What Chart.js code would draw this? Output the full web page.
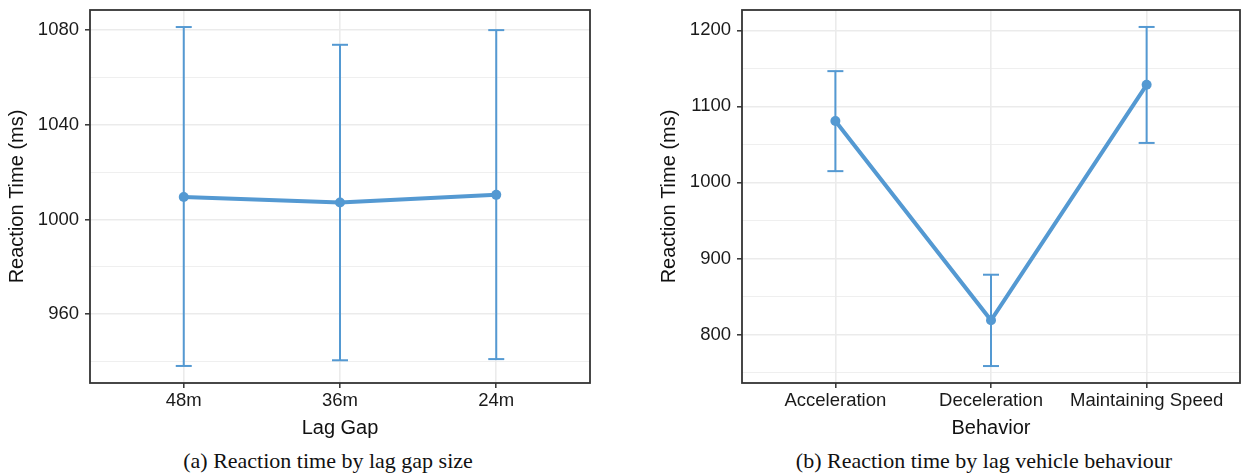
<!DOCTYPE html>
<html>
<head>
<meta charset="utf-8">
<script src="https://cdn.jsdelivr.net/npm/chart.js@4"></script>
<style>
  body { margin: 0; background: #fff; width: 1250px; height: 476px; position: relative; overflow: hidden; }
  canvas { position: absolute; top: 0; }
  .cap { position: absolute; top: 450px; font-family: "Liberation Serif", "Times New Roman", serif; font-size: 22px;
         line-height: 22px; color: #111; white-space: nowrap; transform: translateX(-50%); }
</style>
</head>
<body>
<canvas id="gapChart" width="625" height="445" style="left:0"></canvas>
<canvas id="behChart" width="598" height="445" style="left:652px"></canvas>
<div class="cap" style="left:328px">(a) Reaction time by lag gap size</div>
<div class="cap" style="left:984px">(b) Reaction time by lag vehicle behaviour</div>
<script>
// (a) lag gap
var gapLabels = ['48m', '36m', '24m'];
var gapMean = [1009.5, 1007.2, 1010.4];
var gapLow = [938.1, 940.5, 941.0];
var gapHigh = [1081.3, 1073.8, 1080.0];
var gapTicks = [940, 960, 980, 1000, 1020, 1040, 1060, 1080];

// (b) lag vehicle behaviour
var behLabels = ['Acceleration', 'Deceleration', 'Maintaining Speed'];
var behMean = [1080.7, 818.7, 1128.3];
var behLow = [1014.8, 758.5, 1051.9];
var behHigh = [1146.3, 878.6, 1204.4];
var behTicks = [750, 800, 850, 900, 950, 1000, 1050, 1100, 1150, 1200];

var blue = '#5499d2';
var sans = '"Liberation Sans", Arial, Helvetica, sans-serif';

// dark frame round the panel, like ggplot's panel.border
var panelBorder = {
    id: 'panelBorder',
    afterDatasetsDraw: function (chart) {
        var a = chart.chartArea;
        var ctx = chart.ctx;
        ctx.save();
        ctx.strokeStyle = '#333';
        ctx.lineWidth = 1.8;
        ctx.strokeRect(a.left, a.top, a.right - a.left, a.bottom - a.top);
        ctx.restore();
    }
};

function makeChart(id, labels, mean, low, high, ticks, major, yMin, yMax, xTitle, padRight) {
    var datasets = [{
        data: mean.map(function (v, i) { return {x: i, y: v}; }),
        borderColor: blue,
        borderWidth: 4,
        pointRadius: 5,
        pointBackgroundColor: blue,
        pointBorderWidth: 0,
        order: 1
    }];
    // one dataset per error bar, caps drawn as 'line' point style
    labels.forEach(function (l, i) {
        datasets.push({
            data: [{x: i, y: low[i]}, {x: i, y: high[i]}],
            borderColor: blue,
            borderWidth: 2,
            pointStyle: 'line',
            pointRadius: 8,
            pointBorderWidth: 2,
            pointBorderColor: blue,
            order: 2
        });
    });

    return new Chart(document.getElementById(id), {
        type: 'line',
        data: {datasets: datasets},
        plugins: [panelBorder],
        options: {
            responsive: false,
            animation: false,
            events: [],
            devicePixelRatio: 1,
            layout: {padding: {top: 9, right: padRight, left: 0, bottom: 0}},
            plugins: {legend: {display: false}, tooltip: {enabled: false}},
            scales: {
                x: {
                    type: 'linear',
                    min: -0.6,
                    max: labels.length - 0.4,
                    afterBuildTicks: function (axis) {
                        axis.ticks = labels.map(function (l, i) { return {value: i}; });
                    },
                    afterFit: function (axis) {
                        axis.height = 62;
                        axis.paddingLeft = 0;
                        axis.paddingRight = 0;
                    },
                    border: {display: false},
                    grid: {color: '#ebebeb', lineWidth: 1.6, tickLength: 5, tickWidth: 1.5, tickColor: '#333'},
                    ticks: {
                        autoSkip: false, maxRotation: 0, padding: 2, color: '#1a1a1a',
                        font: {family: sans, size: 18.5},
                        callback: function (v) { return labels[v]; }
                    },
                    title: {display: true, text: xTitle, color: '#111', font: {family: sans, size: 20},
                        padding: {top: 0, bottom: 5}}
                },
                y: {
                    min: yMin,
                    max: yMax,
                    afterBuildTicks: function (axis) {
                        axis.ticks = ticks.map(function (v) { return {value: v}; });
                    },
                    afterFit: function (axis) {
                        axis.width = 90;
                        axis.paddingTop = 0;
                        axis.paddingBottom = 0;
                    },
                    border: {display: false},
                    grid: {
                        color: '#ebebeb',
                        lineWidth: function (c) { return c.tick.value % major === 0 ? 1.6 : 0.8; },
                        tickLength: 5,
                        tickWidth: 1.5,
                        tickColor: function (c) { return c.tick.value % major === 0 ? '#333' : 'rgba(0,0,0,0)'; }
                    },
                    ticks: {
                        padding: 6, color: '#1a1a1a',
                        font: {family: sans, size: 18.5},
                        callback: function (v) { return v % major === 0 ? v : ''; }
                    },
                    title: {display: true, text: 'Reaction Time (ms)', color: '#111', font: {family: sans, size: 20},
                        padding: {top: 5, bottom: 0}}
                }
            }
        }
    });
}

makeChart('gapChart', gapLabels, gapMean, gapLow, gapHigh, gapTicks, 40, 930.9, 1088.5, 'Lag Gap', 35);
makeChart('behChart', behLabels, behMean, behLow, behHigh, behTicks, 100, 736.2, 1226.7, 'Behavior', 8);
</script>
</body>
</html>
